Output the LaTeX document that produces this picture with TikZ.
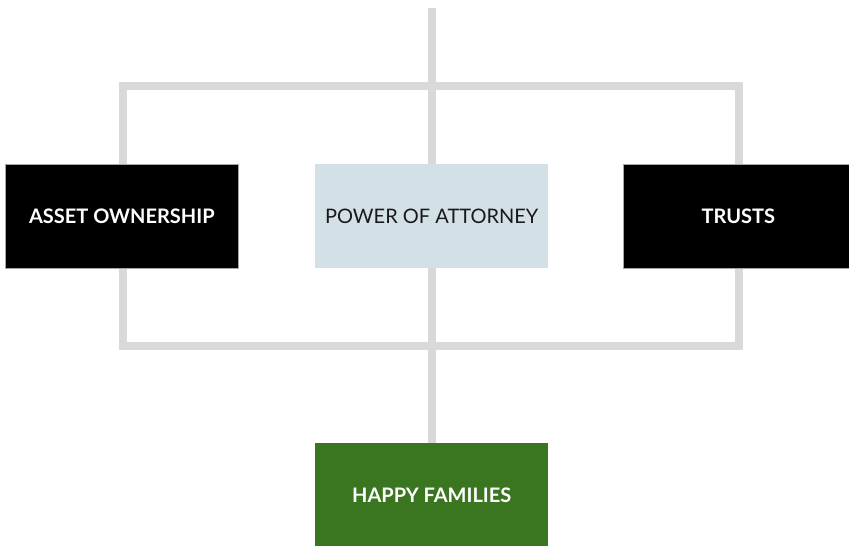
\documentclass[tikz,border=0pt]{standalone}
\usepackage{fontspec}
\setmainfont{Lato}
\usetikzlibrary{backgrounds}
\definecolor{linegray}{HTML}{D9D9D9}
\definecolor{poablue}{HTML}{D3E1E7}
\definecolor{happygreen}{HTML}{3A761F}
\begin{document}
\begin{tikzpicture}[x=1pt,y=-1pt,
  box/.style={minimum width=233pt, minimum height=104pt, inner sep=0pt, anchor=north west, font=\fontsize{20}{24}\selectfont},
  darkbox/.style={box, fill=black, draw=gray!70, line width=0.6pt, text=white, font=\fontsize{20}{24}\selectfont\bfseries},
  link/.style={draw=linegray, line width=8pt, line join=miter}]
\useasboundingbox (0,0) rectangle (849,546);
\node[darkbox] (ao) at (5,164) {ASSET OWNERSHIP};
\node[box, fill=poablue, text=black!90] (poa) at (315,164) {POWER OF ATTORNEY};
\node[darkbox, minimum width=230pt] (tr) at (623,164) {TRUSTS};
\node[box, fill=happygreen, text=white, minimum height=104pt, font=\fontsize{20}{24}\selectfont\bfseries] (hf) at (315,443) {HAPPY FAMILIES};
\coordinate (top) at (432,8);
\coordinate (fnw) at (123,86);
\coordinate (fse) at (739,346);
\begin{scope}[on background layer]
\draw[link] (fnw) rectangle (fse);
\draw[link] (top) -- (hf.north -| top);
\end{scope}
\end{tikzpicture}
\end{document}
